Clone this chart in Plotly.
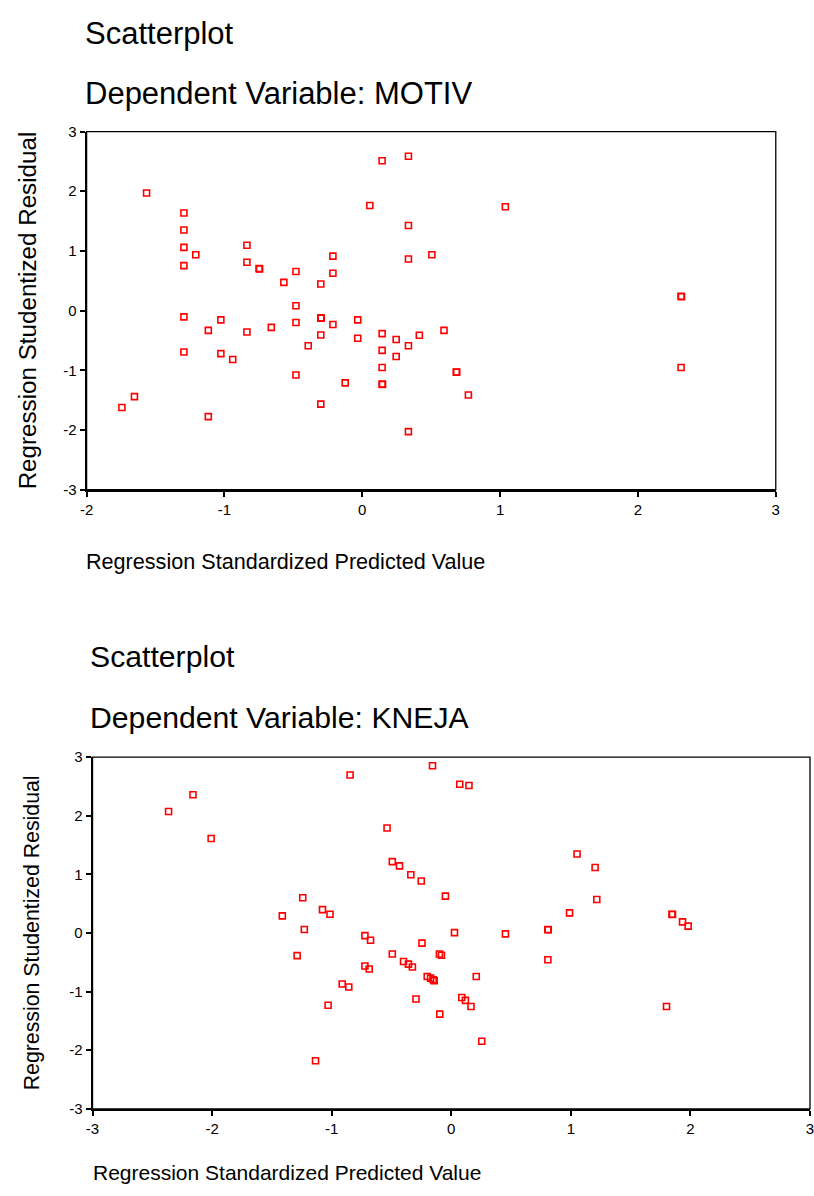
import plotly.graph_objects as go

# ---------- data: MOTIV ----------
motiv_pred = [-1.565, -1.294, -1.294, -1.294, -1.208, -1.294, -0.837, -0.837, -0.749, -0.745,
              -0.569, -0.481, -0.481, -0.301, -0.213, -0.213, 0.055, 0.144, 0.335, 0.335,
              0.335, 1.038, 0.505, 2.313, 2.316, -1.294, -1.294, -1.117, -1.026, -1.026,
              -0.940, -0.837, -0.660, -0.481, -0.481, -0.392, -0.301, -0.298, -0.301, -0.301,
              -0.213, -0.124, -0.033, -0.033, 0.144, 0.144, 0.144, 0.144, 0.147, 0.246,
              0.246, 0.335, 0.335, 0.414, 0.593, 0.682, 0.685, 0.770, 2.313, -1.744,
              -1.653, -1.117]
motiv_resid = [1.97, 1.635, 1.35, 1.06, 0.935, 0.754, 1.095, 0.81, 0.705, 0.700,
               0.473, 0.655, 0.083, 0.446, 0.914, 0.627, 1.76, 2.51, 2.587, 1.425,
               0.864, 1.739, 0.935, 0.242, 0.232, -0.104, -0.692, -0.33, -0.154, -0.72,
               -0.819, -0.357, -0.28, -0.198, -1.077, -0.588, -0.121, -0.128, -0.407, -1.566,
               -0.231, -1.209, -0.154, -0.462, -0.385, -0.665, -0.951, -1.231, -1.236, -0.484,
               -0.769, -0.588, -2.027, -0.412, -0.33, -1.027, -1.032, -1.412, -0.951, -1.621,
               -1.44, -1.775]

# ---------- data: KNEJA ----------
kneja_pred = [-2.364, -2.160, -2.008, -0.846, -0.537, -0.493, -0.433, -0.338, -0.251, -1.413,
              -1.242, -1.077, -1.014, -1.229, -0.722, -0.157, 0.071, 0.148, 1.052, 1.203,
              -0.049, 1.217, 0.989, 1.846, 1.850, 1.934, 1.981, 0.027, 0.453, 0.808,
              0.811, -1.289, -0.675, -0.493, -0.722, -0.686, -0.912, -0.857, -1.030, -1.135,
              -0.399, -0.358, -0.325, -0.295, -0.245, -0.099, -0.082, 0.808, -0.201, -0.173,
              -0.151, -0.143, 0.209, 0.088, 0.118, 0.165, -0.096, 0.255, 1.800]
kneja_resid = [2.073, 2.36, 1.612, 2.697, 1.792, 1.219, 1.146, 0.994, 0.888, 0.292,
               0.601, 0.399, 0.32, 0.06, -0.045, 2.854, 2.539, 2.517, 1.348, 1.118,
               0.629, 0.573, 0.343, 0.32, 0.315, 0.191, 0.118, 0.006, -0.015, 0.06,
               0.055, -0.385, -0.123, -0.357, -0.563, -0.613, -0.87, -0.92, -1.233, -2.18,
               -0.485, -0.53, -0.58, -1.127, -0.173, -0.357, -0.379, -0.457, -0.742, -0.77,
               -0.797, -0.814, -0.742, -1.099, -1.149, -1.255, -1.383, -1.846, -1.255]

tick_vals = [-3, -2, -1, 0, 1, 2, 3]
tick_text = ["-3", "-2", "-1", "0", "1", "2", "3"]

W, H = 814, 1196
FONT = "Liberation Sans, Arial, sans-serif"


def fx(px):
    return px / W


def fy(py):
    return 1 - py / H


marker = dict(symbol="square-open", size=6, color="#ff0000",
              line=dict(color="#ff0000", width=1.6))

fig = go.Figure()
fig.add_trace(go.Scatter(x=motiv_pred, y=motiv_resid, mode="markers", marker=marker,
                         xaxis="x", yaxis="y", showlegend=False, hoverinfo="x+y"))
fig.add_trace(go.Scatter(x=kneja_pred, y=kneja_resid, mode="markers", marker=marker,
                         xaxis="x2", yaxis="y2", showlegend=False, hoverinfo="x+y"))

axis_common = dict(showgrid=False, zeroline=False, showline=True, linecolor="black",
                   linewidth=2, ticks="outside", ticklen=5, tickwidth=1.5,
                   tickcolor="black", tickvals=tick_vals, ticktext=tick_text,
                   ticklabeloverflow="allow",
                   tickfont=dict(family=FONT, size=15, color="black"), fixedrange=True)

fig.update_layout(
    width=W, height=H, autosize=False,
    margin=dict(l=0, r=0, t=0, b=0),
    paper_bgcolor="white", plot_bgcolor="white",
    font=dict(family=FONT, color="black"),
    xaxis=dict(axis_common, domain=[fx(80.7), fx(779.3)], range=[-2, 3], anchor="y",
               tickvals=tick_vals[1:], ticktext=tick_text[1:]),
    yaxis=dict(axis_common, domain=[fy(487.7), fy(124.3)], range=[-3, 3], anchor="x"),
    xaxis2=dict(axis_common, domain=[fx(86.7), 1.0], range=[-3, 3], anchor="y2"),
    yaxis2=dict(axis_common, domain=[fy(1115.7), fy(759)], range=[-3, 3], anchor="x2"),
)

# thin frame lines on top/right
fig.add_shape(type="rect", xref="x domain", yref="y domain", x0=0, x1=1, y0=0, y1=1,
              line=dict(color="black", width=1.3), layer="above")
fig.add_shape(type="rect", xref="x2 domain", yref="y2 domain", x0=0, x1=1, y0=0, y1=1,
              line=dict(color="black", width=1.3), layer="above")


def ann(text, x, y, size, angle=0, xanchor="left"):
    fig.add_annotation(text=text, x=fx(x), y=fy(y), xref="paper", yref="paper",
                       showarrow=False, xanchor=xanchor, yanchor="middle",
                       textangle=angle,
                       font=dict(family=FONT, size=size, color="black"))


ann("Scatterplot", 77, 25, 31)
ann("Dependent Variable: MOTIV", 77, 86, 31)
ann("Regression Standardized Predicted Value", 78, 560, 21.6)
ann("Regression Studentized Residual", 21, 306, 24.2, angle=-90, xanchor="center")

ann("Scatterplot", 82, 657, 30.2)
ann("Dependent Variable: KNEJA", 82, 719, 30.2)
ann("Regression Standardized Predicted Value", 85, 1180, 21)
ann("Regression Studentized Residual", 25, 937, 21.3, angle=-90, xanchor="center")

fig.write_html(
    "out.html",
    config={"displayModeBar": False},
    post_script=(
        "document.documentElement.style.margin='0';"
        "document.documentElement.style.overflow='hidden';"
        "document.body.style.margin='0';"
        "document.body.style.overflow='hidden';"
        "document.body.style.height='1196px';"
    ),
)
